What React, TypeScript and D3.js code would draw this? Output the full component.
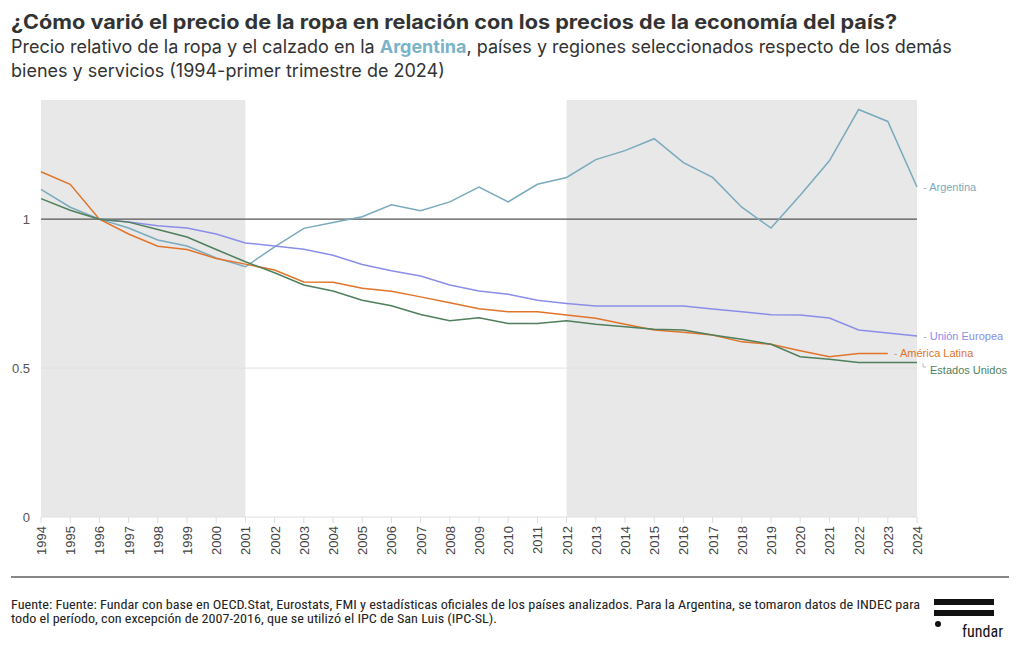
import React from "react";
import * as d3 from "d3";

const years = d3.range(1994, 2025);
const argentina = [1.10, 1.04, 1.0, 0.97, 0.93, 0.91, 0.87, 0.84, 0.907, 0.969, 0.989, 1.008, 1.048, 1.028, 1.058, 1.108, 1.058, 1.117, 1.14, 1.20, 1.23, 1.27, 1.19, 1.14, 1.04, 0.97, 1.08, 1.196, 1.368, 1.328, 1.108];
const unionEuropea = [null, null, 1.0, 0.99, 0.978, 0.97, 0.95, 0.92, 0.91, 0.899, 0.879, 0.848, 0.827, 0.809, 0.779, 0.759, 0.748, 0.728, 0.717, 0.708, 0.708, 0.708, 0.708, 0.698, 0.689, 0.679, 0.678, 0.668, 0.628, 0.618, 0.608];
const americaLatina = [1.159, 1.117, 1.0, 0.95, 0.909, 0.898, 0.868, 0.849, 0.829, 0.789, 0.788, 0.768, 0.758, 0.739, 0.719, 0.699, 0.689, 0.689, 0.678, 0.667, 0.647, 0.628, 0.62, 0.611, 0.588, 0.58, 0.558, 0.538, 0.549, 0.549, null];
const estadosUnidos = [1.069, 1.03, 1.0, 0.99, 0.965, 0.94, 0.898, 0.857, 0.82, 0.779, 0.759, 0.728, 0.709, 0.68, 0.659, 0.669, 0.65, 0.65, 0.659, 0.647, 0.639, 0.63, 0.628, 0.611, 0.597, 0.58, 0.538, 0.53, 0.519, 0.519, 0.519];
const yTicks = [0, 0.5, 1];
const shadedPeriods: [number, number][] = [[1994, 2001], [2012, 2024]];

const seriesList = [
  { name: "Argentina", values: argentina, color: "#7aaabd" },
  { name: "Unión Europea", values: unionEuropea, color: "#8b8ee8" },
  { name: "América Latina", values: americaLatina, color: "#e0742b" },
  { name: "Estados Unidos", values: estadosUnidos, color: "#4f7f5c" },
];

export default function App() {
  const W = 1020, H = 650;
  const x = d3.scaleLinear().domain([1994, 2024]).range([41, 917]);
  const y = d3.scaleLinear().domain([0, 1.4]).range([517, 100]);
  const line = d3.line<[number, number | null]>()
    .defined(d => d[1] != null)
    .x(d => x(d[0]))
    .y(d => y(d[1] as number));
  const font = "'Liberation Sans', Arial, sans-serif";
  const titleFont = "Inter, 'Open Sans', sans-serif";
  const footFont = "'Liberation Sans Narrow', 'Roboto Condensed', Arial, sans-serif";

  const lastPoint = (vals: (number | null)[]) => {
    for (let i = vals.length - 1; i >= 0; i--) if (vals[i] != null) return [years[i], vals[i] as number];
    return [2024, 0];
  };
  const labelPos: Record<string, { y: number }> = {
    "Argentina": { y: 187 },
    "Unión Europea": { y: 336 },
    "América Latina": { y: 353 },
    "Estados Unidos": { y: 370 },
  };

  return (
    <svg width={W} height={H} style={{ position: "absolute", left: 0, top: 0, background: "#fff" }}>
      <text x={11} y={29} fontFamily={titleFont} fontWeight={700} fontSize={19.5} fill="#333" textLength={886} lengthAdjust="spacingAndGlyphs">
        ¿Cómo varió el precio de la ropa en relación con los precios de la economía del país?
      </text>
      <text x={11} y={53} fontFamily={titleFont} fontSize={18} fill="#333">
        Precio relativo de la ropa y el calzado en la <tspan fill="#7ab3c8" fontWeight={700}>Argentina</tspan>, países y regiones seleccionados respecto de los demás
      </text>
      <text x={11} y={77} fontFamily={titleFont} fontSize={18} fill="#333">
        bienes y servicios (1994-primer trimestre de 2024)
      </text>

      {shadedPeriods.map(([a, b], i) => (
        <rect key={i} x={x(a)} y={y(1.4)} width={x(b) - x(a)} height={y(0) - y(1.4)} fill="#e8e8e8" />
      ))}

      {yTicks.filter(t => t !== 1).map(t => (
        <line key={t} x1={x(1994)} x2={x(2024)} y1={y(t)} y2={y(t)} stroke="#e0e0e0" strokeWidth={1} />
      ))}
      <line x1={x(1994)} x2={x(2024)} y1={y(1)} y2={y(1)} stroke="#555" strokeWidth={1.3} />
      {yTicks.map(t => (
        <text key={t} x={30} y={y(t) + 5} textAnchor="end" fontFamily={font} fontSize={13} fill="#555">
          {d3.format("~g")(t)}
        </text>
      ))}

      {years.map(yr => (
        <g key={yr}>
          <line x1={x(yr)} x2={x(yr)} y1={y(0)} y2={y(0) + 6} stroke="#ddd" />
          <text transform={`translate(${x(yr) + 5},${y(0) + 9}) rotate(-90)`} textAnchor="end" fontFamily={font} fontSize={13} fill="#444">
            {yr}
          </text>
        </g>
      ))}

      {seriesList.map(s => (
        <path key={s.name} d={line(years.map((yr, i) => [yr, s.values[i]]) as any) || ""} fill="none" stroke={s.color} strokeWidth={1.5} />
      ))}

      {seriesList.map(s => {
        const [ly] = lastPoint(s.values);
        const lp = labelPos[s.name];
        const lx = x(ly) + 6;
        if (s.name === "Estados Unidos") {
          return (
            <g key={s.name}>
              <path d={`M${lx},${y(s.values[30] as number) + 1} L${lx},${lp.y - 3} L${lx + 3},${lp.y - 3}`} fill="none" stroke="#aaa" strokeWidth={0.8} />
              <text x={lx + 7} y={lp.y + 4} fontFamily={font} fontSize={11} fill={s.color}>{s.name}</text>
            </g>
          );
        }
        return (
          <text key={s.name} x={lx} y={lp.y + 4} fontFamily={font} fontSize={11} fill={s.color}>
            <tspan fill="#aaa">-</tspan> {s.name}
          </text>
        );
      })}

      <line x1={11} x2={1009} y1={577} y2={577} stroke="#111" strokeWidth={1.2} />
      <text x={11} y={609} fontFamily={footFont} fontSize={13} fill="#222" textLength={909} lengthAdjust="spacingAndGlyphs">
        Fuente: Fuente: Fundar con base en OECD.Stat, Eurostats, FMI y estadísticas oficiales de los países analizados. Para la Argentina, se tomaron datos de INDEC para
      </text>
      <text x={11} y={623} fontFamily={footFont} fontSize={13} fill="#222" textLength={486} lengthAdjust="spacingAndGlyphs">
        todo el período, con excepción de 2007-2016, que se utilizó el IPC de San Luis (IPC-SL).
      </text>

      <rect x={934} y={599} width={60} height={6} fill="#111" />
      <rect x={934} y={610} width={60} height={6} fill="#111" />
      <circle cx={938} cy={624} r={3} fill="#111" />
      <text x={962} y={637} fontFamily={footFont} fontSize={16} fill="#111">fundar</text>
    </svg>
  );
}
